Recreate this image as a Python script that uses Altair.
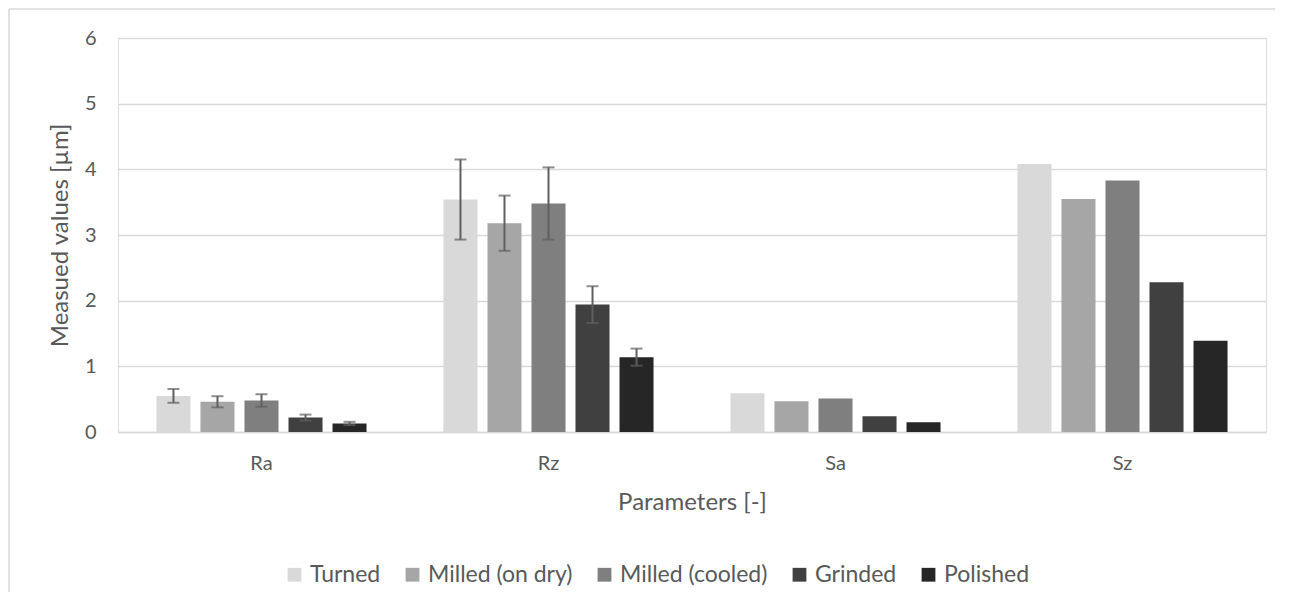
import altair as alt
import pandas as pd

categories = ["Ra", "Rz", "Sa", "Sz"]
series = ["Turned", "Milled (on dry)", "Milled (cooled)", "Grinded", "Polished"]
colors = ["#d9d9d9", "#a6a6a6", "#7f7f7f", "#404040", "#262626"]

turned = [0.55, 3.54, 0.59, 4.08]
milled_dry = [0.46, 3.18, 0.47, 3.55]
milled_cooled = [0.48, 3.48, 0.51, 3.83]
grinded = [0.22, 1.94, 0.24, 2.28]
polished = [0.13, 1.14, 0.15, 1.39]

# error half-widths (only Ra and Rz have error bars)
err_turned = [0.105, 0.61, None, None]
err_milled_dry = [0.085, 0.42, None, None]
err_milled_cooled = [0.095, 0.55, None, None]
err_grinded = [0.045, 0.28, None, None]
err_polished = [0.025, 0.13, None, None]

y_ticks = [0, 1, 2, 3, 4, 5, 6]

vals = [turned, milled_dry, milled_cooled, grinded, polished]
errs = [err_turned, err_milled_dry, err_milled_cooled, err_grinded, err_polished]

rows = []
for s, v, e in zip(series, vals, errs):
    for c, vv, ee in zip(categories, v, e):
        rows.append({
            "param": c, "method": s, "value": vv,
            "lo": (vv - ee) if ee is not None else None,
            "hi": (vv + ee) if ee is not None else None,
        })
df = pd.DataFrame(rows)

FONT = "Lato"
TXT = "#595959"

x_enc = alt.X(
    "param:N", sort=categories,
    scale=alt.Scale(paddingInner=0.268, paddingOuter=0.134),
    axis=alt.Axis(title="Parameters [-]", labelAngle=0, ticks=False,
                  domainColor="#d9d9d9", domainWidth=1.5,
                  labelFontSize=20, labelColor=TXT, labelFont=FONT,
                  labelBaseline="alphabetic", labelPadding=37,
                  titleFontSize=24, titleFont=FONT, titleColor=TXT,
                  titleFontWeight="normal", titleBaseline="alphabetic",
                  titleY=77),
)
xo_enc = alt.XOffset("method:N", sort=series,
                     scale=alt.Scale(domain=series, paddingInner=0.227, paddingOuter=0))

bars = alt.Chart(df).mark_bar().encode(
    x=x_enc,
    xOffset=xo_enc,
    y=alt.Y("value:Q", scale=alt.Scale(domain=[0, 6], nice=False),
            axis=alt.Axis(title="Measued values [µm]", values=y_ticks, format="d",
                          domain=False, ticks=False, grid=True,
                          gridColor="#d9d9d9", gridWidth=1.5,
                          labelFontSize=20, labelColor=TXT, labelFont=FONT,
                          labelPadding=22,
                          titleFontSize=24, titleFont=FONT, titleColor=TXT,
                          titleFontWeight="normal", titleBaseline="alphabetic",
                          titleX=-51)),
    color=alt.Color("method:N", sort=series,
                    scale=alt.Scale(domain=series, range=colors),
                    legend=alt.Legend(title=None, orient="none", direction="horizontal",
                                      legendX=165, legendY=525,
                                      symbolType="square", symbolSize=190,
                                      symbolStrokeWidth=0,
                                      labelFontSize=23, labelFont=FONT, labelColor=TXT,
                                      labelOffset=4, columnPadding=20, padding=0)),
)

err_df = df.dropna(subset=["lo"])
err_base = alt.Chart(err_df)
rules = err_base.mark_rule(color="#5f5f5f", strokeWidth=2).encode(
    x=alt.X("param:N", sort=categories), xOffset=alt.XOffset("method:N", sort=series),
    y="lo:Q", y2="hi:Q")
caps_hi = err_base.mark_tick(color="#5f5f5f", orient="horizontal", size=12, thickness=2).encode(
    x=alt.X("param:N", sort=categories), xOffset=alt.XOffset("method:N", sort=series),
    y="hi:Q")
caps_lo = err_base.mark_tick(color="#5f5f5f", orient="horizontal", size=12, thickness=2).encode(
    x=alt.X("param:N", sort=categories), xOffset=alt.XOffset("method:N", sort=series),
    y="lo:Q")

frame_df = pd.DataFrame({"a": [0]})
border_top = alt.Chart(frame_df).mark_rule(color="#d9d9d9", strokeWidth=1.5).encode(
    x=alt.value(-109), x2=alt.value(1157), y=alt.value(-29))
border_left = alt.Chart(frame_df).mark_rule(color="#d9d9d9", strokeWidth=1.5).encode(
    x=alt.value(-109), y=alt.value(-29), y2=alt.value(570))

chart = alt.layer(border_top, border_left, bars, rules, caps_hi, caps_lo).properties(
    width=1148, height=394,
    autosize=alt.AutoSizeParams(type="none"),
    padding={"left": 110, "top": 30, "right": 9, "bottom": 160},
).configure_view(stroke=None).configure(font=FONT)

chart.save("out.html", embed_options={"renderer": "svg", "actions": False})
